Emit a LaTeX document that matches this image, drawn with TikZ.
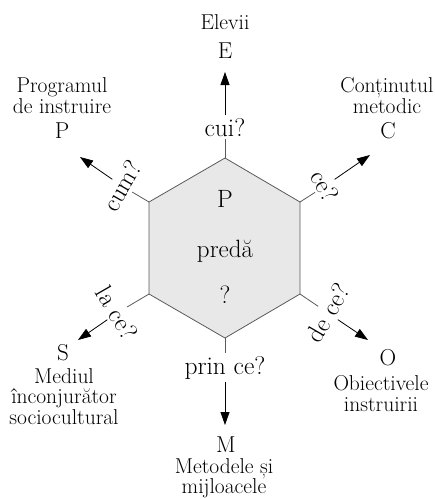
\documentclass[tikz,border=0pt]{standalone}
\usepackage{fontspec}
\usetikzlibrary{arrows.meta}
\definecolor{hexfill}{HTML}{E8E8E8}
\definecolor{hexborder}{HTML}{5A5A5A}
\newcommand{\heavier}{\addfontfeatures{FakeBold=0.35}}
\begin{document}
\begin{tikzpicture}[x=1pt,y=-1pt,
  desc/.style={font=\fontsize{21.5}{20.5}\selectfont\heavier, align=center, anchor=base, inner sep=0pt},
  letter/.style={font=\fontsize{23}{23}\selectfont\heavier, anchor=base, inner sep=0pt},
  ques/.style={font=\fontsize{25.5}{25.5}\selectfont\heavier, inner sep=2.5pt},
  hextext/.style={font=\fontsize{25}{25}\selectfont\heavier, anchor=base, inner sep=0pt},
  seg/.style={draw=hexborder, line width=0.8pt},
  arr/.style={draw=black, line width=0.8pt, -{Triangle[length=13pt,width=9pt]}}]

\useasboundingbox (0,0) rectangle (435,499);

% hexagon
\coordinate (vT) at (225,158);
\coordinate (vUR) at (300,202);
\coordinate (vLR) at (300,294);
\coordinate (vB) at (225,338);
\coordinate (vLL) at (149,294);
\coordinate (vUL) at (149,202);
\filldraw[fill=hexfill, draw=hexborder, line width=0.8pt]
  (vT) -- (vUR) -- (vLR) -- (vB) -- (vLL) -- (vUL) -- cycle;

\node[hextext] (hP) at (225,207) {P};
\node[hextext] (hpreda) at (225,257) {predă};
\node[hextext] (hq) at (225,303) {?};

% question labels
\node[ques, anchor=base] (qE) at (225,136) {cui?};
\node[ques, anchor=base] (qM) at (225,374) {prin ce?};
\node[ques, rotate=60] (qP) at (122,186) {cum?};
\node[ques, rotate=-60] (qC) at (325,186) {ce?};
\node[ques, rotate=-60] (qS) at (117,313) {la ce?};
\node[ques, rotate=60] (qO) at (328,313) {de ce?};

% arrow tips
\coordinate (tE) at (225,72);
\coordinate (tP) at (80,157);
\coordinate (tC) at (370,155);
\coordinate (tS) at (78,340);
\coordinate (tO) at (368,340);
\coordinate (tM) at (225,425);

% segments and arrows
\draw[seg] (vT) -- (qE);   \draw[arr] (qE) -- (tE);
\draw[seg] (vUL) -- (qP);  \draw[arr] (qP) -- (tP);
\draw[seg] (vUR) -- (qC);  \draw[arr] (qC) -- (tC);
\draw[seg] (vLL) -- (qS);  \draw[arr] (qS) -- (tS);
\draw[seg] (vLR) -- (qO);  \draw[arr] (qO) -- (tO);
\draw[seg] (vB) -- (qM);   \draw[arr] (qM) -- (tM);

% outer labels (base anchor = baseline of the last line)
\node[desc] (dE) at (225,29) {Elevii};
\node[letter] (lE) at (225,58) {E};
\node[desc] (dP) at (62,113) {Programul\\de instruire};
\node[letter] (lP) at (62,138) {P};
\node[desc] (dC) at (387,113) {Conținutul\\metodic};
\node[letter] (lC) at (388,138) {C};
\node[letter] (lS) at (63,360) {S};
\node[desc] (dS) at (64,424) {Mediul\\înconjurător\\sociocultural};
\node[letter] (lO) at (388,365) {O};
\node[desc] (dO) at (381,411) {Obiectivele\\instruirii};
\node[letter] (lM) at (226,452) {M};
\node[desc] (dM) at (224,493.5) {Metodele și\\mijloacele};
\end{tikzpicture}
\end{document}
